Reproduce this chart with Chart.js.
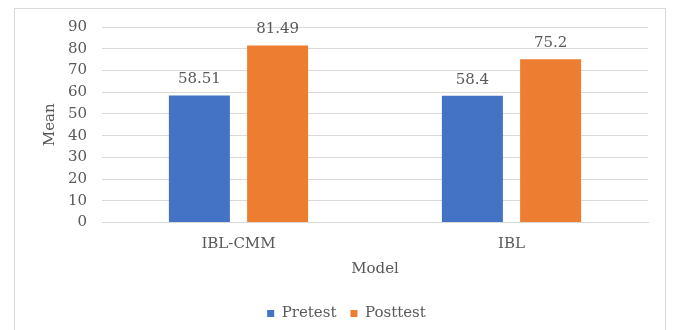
<!DOCTYPE html>
<html>
<head>
<meta charset="utf-8">
<script src="https://cdn.jsdelivr.net/npm/chart.js@4"></script>
<style>
  body { margin: 0; background: #fff; }
  #box { position: absolute; left: 14px; top: 8px; width: 650px; height: 330px; border: 1px solid #d9d9d9; }
</style>
</head>
<body>
<div id="box"><canvas id="barGraph" width="650" height="322"></canvas></div>
<script>
const models = ["IBL-CMM", "IBL"];
const pretest = [58.51, 58.4];
const posttest = [81.49, 75.2];
const pretestLabels = ["58.51", "58.4"];
const posttestLabels = ["81.49", "75.2"];

const textColor = "#595959";
const serif = "'DejaVu Serif', 'Liberation Serif', serif";

Chart.defaults.font.family = serif;
Chart.defaults.font.size = 15;
Chart.defaults.color = textColor;

// draw the value above every bar
const valueLabels = {
    id: "valueLabels",
    afterDatasetsDraw(chart){
        const ctx = chart.ctx;
        const texts = [pretestLabels, posttestLabels];
        ctx.save();
        ctx.font = "15px " + serif;
        ctx.fillStyle = textColor;
        ctx.textAlign = "center";
        ctx.textBaseline = "alphabetic";
        chart.data.datasets.forEach((ds, i) => {
            chart.getDatasetMeta(i).data.forEach((bar, j) => {
                ctx.fillText(texts[i][j], bar.x, bar.y - 12);
            });
        });
        ctx.restore();
    }
};

// legend sits a bit right of centre in the original
const legendShift = {
    id: "legendShift",
    afterLayout(chart){
        chart.legend.left += 15;
        chart.legend.right += 15;
    }
};

const ctx = document.getElementById("barGraph").getContext("2d");
const chart = new Chart(ctx, {
    type: "bar",
    data: {
        labels: models,
        datasets: [{
            label: "Pretest",
            backgroundColor: "#4472C4",
            data: pretest
        }, {
            label: "Posttest",
            backgroundColor: "#ED7D31",
            data: posttest
        }]
    },
    options: {
        responsive: false,
        animation: false,
        layout: { padding: { top: 18, right: 17, left: 0, bottom: 0 } },
        datasets: { bar: { categoryPercentage: 0.573, barPercentage: 0.78 } },
        plugins: {
            legend: {
                position: "bottom",
                labels: {
                    color: textColor,
                    font: { family: serif, size: 15 },
                    boxWidth: 7,
                    boxHeight: 7,
                    padding: 14
                }
            },
            tooltip: { enabled: false }
        },
        scales: {
            x: {
                afterFit: s => { s.height = 69.5; },
                grid: { display: false, drawTicks: false },
                border: { color: "#d9d9d9" },
                ticks: { font: { family: serif, size: 15 }, padding: 13 },
                title: { display: true, text: "Model", font: { family: serif, size: 15 }, padding: { top: 0, bottom: 13.5 } }
            },
            y: {
                afterFit: s => { s.width = 87; s.paddingTop = 0; s.paddingBottom = 0; },
                min: 0,
                max: 90,
                ticks: { stepSize: 10, font: { family: serif, size: 15 }, padding: 15 },
                grid: { color: "#d9d9d9", drawTicks: false },
                border: { display: false },
                title: { display: true, text: "Mean", font: { family: serif, size: 15 }, padding: { top: 26, bottom: 0 } }
            }
        }
    },
    plugins: [valueLabels, legendShift]
});
</script>
</body>
</html>
